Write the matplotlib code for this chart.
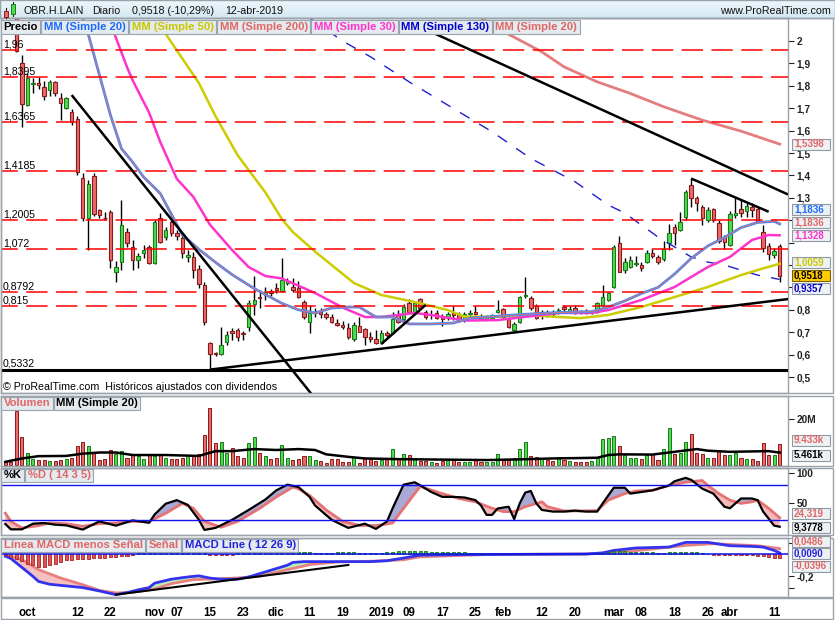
import numpy as np
import pandas as pd
import matplotlib
matplotlib.use("Agg")
import matplotlib.pyplot as plt
from matplotlib.patches import Rectangle
from matplotlib.colors import LinearSegmentedColormap

plt.rcParams['font.family'] = ['Liberation Sans', 'DejaVu Sans']

# ---------------- data ----------------
# trading days, BME holidays removed
holidays = pd.to_datetime(['2018-12-25', '2018-12-26', '2019-01-01'])
dates = pd.bdate_range('2018-09-25', '2019-04-12')
dates = dates[~dates.isin(holidays)]

opens = [2.30, 2.25, 2.15, 1.90, 1.714, 1.81, 1.815, 1.793, 1.781, 1.818,
         1.748, 1.70, 1.684, 1.65, 1.387, 1.208, 1.399, 1.245, 1.212, 1.238,
         0.969, 1.013, 1.147, 1.08, 1.022, 1.054, 1.08, 1.009, 1.21, 1.125,
         1.192, 1.143, 1.121, 1.036, 1.036, 0.982, 0.911, 0.652, 0.605, 0.603,
         0.656, 0.705, 0.71, 0.698, 0.723, 0.826, 0.857, 0.866, 0.882, 0.897,
         0.885, 0.918, 0.90, 0.896, 0.836, 0.747, 0.784, 0.791, 0.781, 0.766,
         0.74, 0.732, 0.717, 0.668, 0.728, 0.713, 0.68, 0.668, 0.65, 0.698,
         0.695, 0.777, 0.757, 0.832, 0.784, 0.847, 0.791, 0.775, 0.784, 0.766,
         0.766, 0.784, 0.777, 0.754, 0.782, 0.79, 0.769, 0.761, 0.762, 0.791,
         0.802, 0.762, 0.71, 0.747, 0.862, 0.851, 0.817, 0.781, 0.791, 0.79,
         0.79, 0.814, 0.792, 0.807, 0.795, 0.796, 0.785, 0.791, 0.821, 0.844,
         0.903, 1.097, 0.98, 0.99, 1.006, 1.0, 1.015, 1.055, 1.037, 1.025,
         1.097, 1.168, 1.156, 1.216, 1.357, 1.298, 1.257, 1.2, 1.248, 1.189,
         1.123, 1.089, 1.223, 1.248, 1.242, 1.26, 1.248, 1.149, 1.085, 1.045,
         1.083]
highs = [2.35, 2.28, 2.18, 1.94, 1.856, 1.835, 1.84, 1.823, 1.826, 1.82,
         1.77, 1.75, 1.696, 1.665, 1.41, 1.379, 1.413, 1.25, 1.238, 1.245,
         1.02, 1.29, 1.165, 1.112, 1.054, 1.09, 1.09, 1.20, 1.232, 1.17,
         1.20, 1.156, 1.13, 1.067, 1.058, 1.0, 0.924, 0.655, 0.61, 0.723,
         0.705, 0.72, 0.72, 0.705, 0.844, 0.951, 0.888, 0.90, 0.892, 0.92,
         1.031, 0.94, 0.94, 0.93, 0.845, 0.821, 0.81, 0.81, 0.79, 0.78,
         0.76, 0.75, 0.74, 0.745, 0.77, 0.72, 0.70, 0.71, 0.71, 0.705,
         0.79, 0.80, 0.825, 0.85, 0.84, 0.855, 0.80, 0.80, 0.80, 0.78,
         0.79, 0.817, 0.79, 0.79, 0.80, 0.817, 0.78, 0.775, 0.78, 0.844,
         0.81, 0.77, 0.745, 0.86, 0.945, 0.86, 0.825, 0.80, 0.80, 0.80,
         0.81, 0.82, 0.815, 0.82, 0.80, 0.805, 0.80, 0.835, 0.911, 0.88,
         1.089, 1.129, 1.03, 1.04, 1.04, 1.015, 1.067, 1.07, 1.045, 1.108,
         1.183, 1.185, 1.238, 1.335, 1.387, 1.31, 1.27, 1.26, 1.255, 1.20,
         1.135, 1.24, 1.302, 1.29, 1.28, 1.275, 1.26, 1.18, 1.10, 1.075,
         1.094]
lows = [2.22, 2.12, 1.95, 1.615, 1.71, 1.77, 1.785, 1.737, 1.754, 1.754,
        1.647, 1.697, 1.625, 1.40, 1.195, 1.067, 1.22, 1.21, 1.20, 0.987,
        0.925, 0.98, 1.08, 0.978, 0.987, 1.031, 1.005, 1.005, 1.10, 1.11,
        1.13, 1.11, 1.03, 1.013, 0.942, 0.897, 0.732, 0.533, 0.595, 0.60,
        0.643, 0.665, 0.66, 0.665, 0.705, 0.777, 0.81, 0.845, 0.86, 0.875,
        0.88, 0.91, 0.88, 0.855, 0.76, 0.698, 0.77, 0.765, 0.76, 0.74,
        0.728, 0.715, 0.67, 0.66, 0.70, 0.645, 0.655, 0.648, 0.648, 0.68,
        0.69, 0.74, 0.75, 0.785, 0.78, 0.80, 0.76, 0.76, 0.76, 0.728,
        0.755, 0.755, 0.745, 0.745, 0.77, 0.775, 0.755, 0.755, 0.755, 0.785,
        0.76, 0.72, 0.698, 0.74, 0.855, 0.80, 0.76, 0.76, 0.77, 0.77,
        0.78, 0.79, 0.785, 0.782, 0.78, 0.78, 0.78, 0.785, 0.815, 0.84,
        0.896, 0.97, 0.965, 0.985, 0.995, 0.972, 1.01, 1.03, 1.005, 1.02,
        1.067, 1.09, 1.15, 1.2, 1.26, 1.24, 1.18, 1.19, 1.19, 1.10,
        1.07, 1.085, 1.21, 1.215, 1.215, 1.215, 1.19, 1.06, 1.022, 1.03,
        0.925]
closes = [2.25, 2.15, 1.955, 1.72, 1.833, 1.815, 1.803, 1.756, 1.818, 1.769,
          1.722, 1.744, 1.640, 1.416, 1.21, 1.362, 1.226, 1.223, 1.21, 1.022,
          0.99, 1.179, 1.098, 1.022, 1.04, 1.067, 1.009, 1.192, 1.103, 1.156,
          1.143, 1.13, 1.054, 1.045, 0.978, 0.915, 0.746, 0.603, 0.603, 0.643,
          0.688, 0.696, 0.679, 0.692, 0.83, 0.844, 0.853, 0.88, 0.875, 0.888,
          0.933, 0.929, 0.888, 0.858, 0.766, 0.784, 0.791, 0.781, 0.766, 0.747,
          0.732, 0.722, 0.677, 0.732, 0.702, 0.677, 0.668, 0.65, 0.695, 0.688,
          0.761, 0.747, 0.814, 0.791, 0.832, 0.807, 0.766, 0.779, 0.762, 0.757,
          0.78, 0.775, 0.754, 0.78, 0.786, 0.781, 0.76, 0.768, 0.777, 0.799,
          0.766, 0.725, 0.737, 0.858, 0.866, 0.807, 0.762, 0.791, 0.777, 0.78,
          0.80, 0.803, 0.805, 0.787, 0.79, 0.785, 0.792, 0.829, 0.858, 0.876,
          1.079, 0.97, 1.015, 1.022, 1.008, 0.985, 1.052, 1.04, 1.015, 1.07,
          1.141, 1.144, 1.193, 1.327, 1.298, 1.278, 1.208, 1.245, 1.203, 1.108,
          1.104, 1.23, 1.233, 1.233, 1.263, 1.245, 1.193, 1.074, 1.049, 1.061,
          0.9518]
# volume in millions
volume = [1.9, 1.5, 23.8, 12.1, 5.5, 2.6, 2.2, 2.2, 1.7, 1.7,
          2.2, 2.6, 2.9, 8.3, 9.9, 8.3, 5.5, 2.2, 2.6, 6.6,
          5.0, 6.3, 3.3, 5.0, 4.0, 2.6, 5.0, 4.0, 4.4, 2.9,
          2.6, 2.6, 2.9, 4.0, 4.0, 4.7, 13.1, 24.8, 9.5, 10.2,
          5.5, 7.3, 3.8, 2.9, 9.5, 12.1, 5.5, 3.8, 2.6, 3.3,
          8.7, 3.3, 2.2, 2.6, 3.8, 3.8, 2.2, 1.7, 1.0, 2.6,
          2.6, 1.5, 1.5, 3.6, 1.0, 2.9, 2.6, 1.9, 2.2, 2.6,
          6.9, 2.6, 4.7, 4.4, 3.3, 1.9, 1.9, 1.2, 0.7, 1.7,
          2.2, 2.2, 1.2, 1.2, 1.2, 2.2, 1.2, 1.2, 1.2, 5.0,
          2.2, 2.2, 3.3, 6.9, 10.2, 4.0, 3.6, 3.2, 2.2, 1.7,
          3.6, 2.2, 1.7, 1.2, 1.2, 1.2, 1.7, 2.9, 11.2, 11.9,
          12.7, 8.5, 4.4, 2.9, 3.3, 2.6, 4.6, 5.0, 2.2, 6.9,
          16.1, 5.0, 5.3, 9.9, 13.5, 5.5, 4.7, 3.3, 2.9, 6.3,
          4.4, 4.4, 5.3, 2.9, 2.5, 2.5, 1.7, 9.6, 4.6, 4.4,
          9.433]
volma_idx = [0, 3, 6, 11, 14, 17, 20, 23, 29, 35, 38, 41, 45, 49, 53, 56, 58,
             62, 65, 71, 75, 87, 93, 99, 107, 109, 111, 117, 121, 125, 127, 131, 138, 140]
volma = [1.4, 2.9, 3.9, 4.0, 5.0, 5.5, 5.5, 4.4, 4.4, 4.0, 6.1, 6.1, 7.0, 6.6, 7.0, 6.6, 4.7,
         3.6, 2.9, 2.6, 2.5, 2.2, 2.5, 2.9, 3.2, 4.4, 4.7, 4.6, 5.8, 7.0, 6.3, 5.8, 6.1, 5.461]

# moving averages (day index, value)
sma20_idx = [14, 15, 17, 19, 21, 23, 25, 28, 32, 35, 38, 41, 45, 50, 53, 56, 59, 62, 64, 67,
             70, 73, 77, 81, 84, 87, 92, 98, 106, 109, 112, 115, 118, 121, 124, 127, 130,
             133, 136, 139, 140]
sma20 = [2.10, 2.03, 1.85, 1.67, 1.52, 1.46, 1.393, 1.32, 1.135, 1.07, 1.012, 0.957, 0.895,
         0.829, 0.80, 0.786, 0.808, 0.8125, 0.812, 0.768, 0.768, 0.737, 0.737, 0.741, 0.763,
         0.768, 0.777, 0.786, 0.792, 0.812, 0.84, 0.873, 0.90, 0.96, 1.03, 1.085, 1.123,
         1.167, 1.19, 1.195, 1.1836]
sma30_idx = [19, 22, 23, 26, 28, 31, 34, 37, 41, 44, 47, 50, 56, 61, 65, 68, 74, 77, 83, 89,
             100, 106, 109, 115, 121, 127, 131, 135, 138, 140]
sma30 = [2.08, 1.884, 1.826, 1.68, 1.55, 1.385, 1.304, 1.18, 1.067, 0.991, 0.951, 0.94, 0.875,
         0.81, 0.768, 0.768, 0.786, 0.777, 0.752, 0.754, 0.786, 0.786, 0.799, 0.844, 0.902,
         0.991, 1.036, 1.112, 1.134, 1.1328]
sma50_idx = [28, 30, 35, 38, 42, 47, 50, 52, 56, 63, 68, 74, 80, 83, 88, 94, 100, 104, 109,
             115, 121, 127, 133, 137, 140]
sma50 = [2.07, 1.995, 1.8125, 1.665, 1.49, 1.325, 1.205, 1.147, 1.06, 0.92, 0.866, 0.835,
         0.799, 0.77, 0.768, 0.777, 0.768, 0.763, 0.777, 0.8125, 0.857, 0.902, 0.955, 0.985,
         1.0059]
sma130_idx = [55, 61, 66, 73, 80, 88, 95, 103, 109, 112, 118, 124, 127, 130, 136, 140]
sma130 = [2.103, 2.0, 1.93, 1.818, 1.714, 1.595, 1.476, 1.372, 1.268, 1.232, 1.125, 1.036,
          1.013, 1.0, 0.955, 0.9357]
sma200_idx = [86, 91, 97, 101, 107, 113, 119, 126, 133, 140]
sma200 = [2.103, 2.03, 1.952, 1.885, 1.818, 1.766, 1.707, 1.647, 1.598, 1.5398]

# drawn levels and trend lines
levels = [1.96, 1.8395, 1.6365, 1.4185, 1.2005, 1.072, 0.8792, 0.815]
support_level = 0.5332
trend_lines = [([12, 56], [1.759, 0.404]),
               ([37, 141.5], [0.533, 0.848]),
               ([68, 76], [0.648, 0.822]),
               ([75, 141.5], [2.063, 1.315]),
               ([124, 138], [1.386, 1.238])]

# stochastic %K / %D
k_idx = [0, 1, 3, 5, 7, 9, 11, 14, 17, 20, 23, 26, 27, 29, 31, 33, 35, 36, 38, 41,
         44, 47, 49, 51, 53, 55, 56, 59, 62, 65, 67, 69, 70, 71, 72, 74, 75, 77, 79, 81,
         83, 85, 86, 87, 88, 89, 91, 92, 93, 94, 95, 96, 97, 99, 101, 103, 105, 107, 108, 110,
         112, 113, 115, 117, 120, 121, 123, 124, 126, 128, 130, 131, 133, 135, 136, 137, 139, 140]
k_val = [14, 5, 5, 14.5, 15.6, 12.8, 11.7, 4.6, 18.3, 11.2, 20, 16, 30, 48, 54, 46, 21, 4, 7.4, 21,
         37.6, 55, 70.5, 80, 76, 59.5, 45, 21, 7.4, 14.5, 5.7, 18.3, 40, 60, 80, 84, 79, 67.7, 59.5, 59.5,
         58.5, 54, 45, 29.3, 29.3, 40, 43, 22.2, 48.6, 66.7, 69.4, 48.6, 37.6, 34.8, 34.8, 36.4, 34.8, 34.8, 48.6, 74.9,
         74.9, 65, 67.7, 70.5, 78.7, 85.8, 91.4, 88.1, 73.3, 65, 43, 40.4, 56.8, 56.8, 54, 34.8, 11.2, 9.3778]
d_idx = [0, 1, 3, 6, 8, 11, 14, 17, 20, 23, 26, 29, 32, 34, 36, 39, 42, 46, 49, 52,
         53, 55, 58, 61, 64, 67, 70, 72, 74, 75, 79, 82, 85, 88, 90, 92, 94, 97, 98, 101,
         104, 107, 109, 112, 114, 117, 120, 123, 126, 127, 129, 131, 133, 135, 136, 138, 140]
d_val = [32, 18.3, 7.4, 11.2, 15.6, 14.5, 10.1, 14.5, 15.6, 18.3, 18.3, 32, 48.6, 40.3, 18.3, 8.5, 18.3, 40.3, 59.5, 76,
         73, 62, 37.6, 18.3, 11.7, 11.2, 15.6, 40.3, 65, 77, 65, 56.8, 51.2, 40.4, 34.8, 34.8, 43, 51.2, 43, 35.9,
         35.9, 36.4, 54, 65, 69.4, 70.5, 78.7, 84.2, 87, 78.7, 65, 54, 48.6, 51.2, 54, 40.4, 24.319]

# MACD
macd_idx = [0, 1, 3, 5, 6, 8, 11, 14, 17, 20, 22, 24, 26, 27, 30, 33, 35, 37, 39, 42,
            44, 47, 49, 51, 52, 54, 60, 66, 69, 72, 75, 81, 105, 108, 110, 114, 120, 123, 127, 131,
            135, 137, 139, 140]
macd_val = [-0.02, -0.04, -0.12, -0.2, -0.245, -0.27, -0.285, -0.30, -0.33, -0.363, -0.345, -0.32,
            -0.30, -0.26, -0.225, -0.205, -0.195, -0.215, -0.225, -0.225, -0.205, -0.16, -0.13, -0.10,
            -0.075, -0.068, -0.068, -0.068, -0.06, -0.036, -0.01, -0.006, 0.0, 0.01, 0.032, 0.054,
            0.062, 0.104, 0.104, 0.074, 0.068, 0.062, 0.032, 0.009]
sig_idx = [0, 3, 6, 10, 14, 17, 20, 23, 27, 30, 34, 38, 42, 46, 51, 55, 60, 66, 72, 75,
           81, 87, 105, 111, 117, 123, 128, 132, 136, 140]
sig_val = [-0.006, -0.05, -0.14, -0.214, -0.274, -0.325, -0.348, -0.342, -0.313, -0.265,
           -0.229, -0.223, -0.214, -0.199, -0.14, -0.095, -0.071, -0.065, -0.051, -0.025,
           -0.015, -0.005, 0.0, 0.015, 0.045, 0.077, 0.092, 0.083, 0.074, 0.0486]
macd_hist = [-0.01, -0.025, -0.045, -0.065, -0.085, -0.10, -0.115, -0.115, -0.10, -0.085,
             -0.07, -0.055, -0.05, -0.048, -0.045, -0.042, -0.04, -0.036, -0.033, -0.03,
             -0.027, -0.022, -0.018, -0.01,
             0.005, 0.01, 0.015, 0.02, 0.025, 0.03, 0.03, 0.028, 0.025, 0.022, 0.018, 0.012, 0.005, -0.005,
             -0.01, -0.012, -0.01, -0.005,
             0.005, 0.01, 0.02, 0.03, 0.04, 0.045, 0.045, 0.04, 0.035, 0.03, 0.025, 0.02, 0.018, 0.015,
             0.012, 0.01, 0.01, 0.012, 0.014, 0.015, 0.015, 0.014, 0.013, 0.012, 0.012, 0.012, 0.013,
             0.015, 0.02, 0.025, 0.03, 0.03, 0.03, 0.028,
             0.025, 0.022, 0.02, 0.02, 0.018, 0.018, 0.016, 0.014, 0.012, 0.01,
             0.006, 0.004, 0.003, 0.002, 0.002, 0.001, 0.001, 0.002, 0.003, 0.003, 0.002, 0.001,
             0.001, 0.001, 0.002, 0.002, 0.002, 0.001, 0.001, 0.002, 0.003, 0.005,
             0.01, 0.02, 0.03, 0.028, 0.025, 0.022, 0.02, 0.018, 0.016, 0.015, 0.012, 0.012, 0.018,
             0.02, 0.02, 0.022, 0.02, 0.015, 0.008,
             -0.003, -0.005, -0.008, -0.008, -0.006, -0.006, -0.008, -0.01, -0.012, -0.014, -0.02,
             -0.03, -0.035, -0.0396]

tick_dates = ['2018-10-01', '2018-10-12', '2018-10-22', '2018-11-01', '2018-11-07', '2018-11-15',
              '2018-11-23', '2018-12-03', '2018-12-11', '2018-12-19', '2019-01-02', '2019-01-09',
              '2019-01-17', '2019-01-25', '2019-02-01', '2019-02-12', '2019-02-20', '2019-03-01',
              '2019-03-08', '2019-03-18', '2019-03-26', '2019-04-01', '2019-04-11']
tick_labels = ['oct', '12', '22', 'nov', '07', '15', '23', 'dic', '11', '19', '2019', '09',
               '17', '25', 'feb', '12', '20', 'mar', '08', '18', '26', 'abr', '11']

# ---------------- figure ----------------
W, H = 835, 620
fig = plt.figure(figsize=(W / 100, H / 100), dpi=100)
fig.patch.set_facecolor('white')
FRAME = '#9aa3ab'
RED, RED_E = '#e86a6a', '#8b1a1a'
GRN, GRN_E = '#4ddc4d', '#1a7a1a'
SALMON = '#e06666'


def fx(px):
    return px / W


def fy(px):
    return 1 - px / H


def es(v):
    return f"{v:g}".replace('.', ',')


def make_panel(top, bottom):
    ax = fig.add_axes([fx(1), fy(bottom), fx(787), (bottom - top) / H])
    for s in ax.spines.values():
        s.set_color(FRAME)
        s.set_linewidth(1)
    ax.set_xlim(-0.78, 141.5)
    ax.set_xticks([])
    ax.yaxis.tick_right()
    ax.tick_params(axis='y', direction='out', length=4, width=0.8, colors='#222',
                   labelsize=7.3, pad=2)
    fig.patches.append(Rectangle((fx(1), fy(bottom)), fx(832), (bottom - top) / H,
                                 transform=fig.transFigure, fill=False, ec=FRAME, lw=1, zorder=1))
    return ax


x = np.arange(len(dates))
o, h, l, c = map(np.array, (opens, highs, lows, closes))
up = c >= o

# header band
hax = fig.add_axes([0, fy(18), 1, 18 / H])
hax.imshow(np.linspace(0, 1, 18)[:, None], aspect='auto',
           cmap=LinearSegmentedColormap.from_list('hdr', ['#eef7fb', '#d4e8f2']), extent=[0, 1, 0, 1])
hax.axis('off')
fig.patches.append(Rectangle((0, fy(18)), 1, 18 / H, transform=fig.transFigure, fill=False,
                             ec=FRAME, lw=1, zorder=2))
# small candle icon
fig.lines.append(plt.Line2D([fx(5.5), fx(5.5)], [fy(8), fy(18)], transform=fig.transFigure, color='#222', lw=0.8, zorder=3))
fig.patches.append(Rectangle((fx(3.5), fy(16.5)), 4 / W, 6 / H, transform=fig.transFigure, fc=RED, ec=RED_E, lw=0.7, zorder=4))
fig.lines.append(plt.Line2D([fx(13), fx(13)], [fy(1.5), fy(15.5)], transform=fig.transFigure, color='#222', lw=0.8, zorder=3))
fig.patches.append(Rectangle((fx(11), fy(14)), 4 / W, 10 / H, transform=fig.transFigure, fc=GRN, ec=GRN_E, lw=0.7, zorder=4))
for px, s in [(23, 'OBR.H.LAIN'), (92, 'Diario'), (132, '0,9518 (-10,29%)'), (225, '12-abr-2019')]:
    fig.text(fx(px), fy(11), s, fontsize=7.7, color='#111', va='center', ha='left')
fig.text(fx(831), fy(11.5), 'www.ProRealTime.com', fontsize=7.7, color='#111', va='center', ha='right')

# ---- price panel ----
ax = make_panel(18, 393)
ax.set_ylim(0.4286, 2.103)
ax.vlines(x, l, h, color='black', lw=1, zorder=2)
ax.bar(x, np.maximum(np.abs(c - o), 0.002), bottom=np.minimum(o, c), width=0.62,
       color=np.where(up, GRN, RED), edgecolor=np.where(up, GRN_E, RED_E), lw=0.8, zorder=3)
ax.plot(sma200_idx, sma200, color=SALMON, lw=2, alpha=0.85, zorder=3.5)
ax.plot(sma130_idx, sma130, color='#1f1fd0', lw=1, ls=(0, (8, 8)), zorder=3.5)
ax.plot(sma50_idx, sma50, color='#cccc00', lw=1.8, zorder=3.6)
ax.plot(sma30_idx, sma30, color='#ff33cc', lw=1.8, zorder=3.6)
ax.plot(sma20_idx, sma20, color='#3d8bff', lw=2.0, zorder=3.7)
ax.plot(sma20_idx, sma20, color='#e07070', lw=0.7, zorder=3.8)
for lv in levels:
    ax.axhline(lv, color='#ff0000', lw=1.1, ls=(3, (14, 5.5)), zorder=4)
    ax.annotate(es(lv), xy=(0, lv), xycoords=('axes fraction', 'data'), xytext=(1.5, 1.8),
                textcoords='offset points', fontsize=7.6, va='baseline', ha='left', zorder=5)
ax.axhline(support_level, color='black', lw=2.2, zorder=4)
ax.annotate(es(support_level), xy=(0, support_level), xycoords=('axes fraction', 'data'),
            xytext=(1.5, 2.2), textcoords='offset points', fontsize=7.6, va='baseline', ha='left')
for tx, ty in trend_lines:
    ax.plot(tx, ty, color='black', lw=1.8, zorder=4.5, solid_capstyle='butt')
pt = np.round(np.arange(0.5, 2.01, 0.1), 1)
# labels 1,2 / 1,1 / 1 / 0,9 sit under the value tags in the original
hidden = {1.2, 1.1, 1.0, 0.9}
ax.set_yticks(pt, ['' if v in hidden else es(v) for v in pt], fontweight='bold')
fig.text(fx(3), fy(386.5), '© ProRealTime.com  Históricos ajustados con dividendos',
         fontsize=7.7, va='center', ha='left', zorder=6)

# ---- volume panel ----
av = make_panel(396, 466)
av.set_ylim(-0.4, 30.2)
av.bar(x, volume, width=0.55, color=np.where(up, GRN, RED),
       edgecolor=np.where(up, GRN_E, RED_E), lw=0.7, zorder=2)
av.plot(volma_idx, volma, color='black', lw=1.8, zorder=3)
av.set_yticks([20], ['20M'], fontweight='bold')

# ---- stochastic panel ----
ak = make_panel(468, 535)
ak.set_ylim(-4.5, 108)
xs = np.linspace(0, 140, 1401)
kk = np.interp(xs, k_idx, k_val)
dd = np.interp(xs, d_idx, d_val)
ak.fill_between(xs, kk, dd, where=kk >= dd, interpolate=True, color='#a9a9d6', lw=0)
ak.fill_between(xs, kk, dd, where=kk < dd, interpolate=True, color='#f5b9b9', lw=0)
ak.plot(d_idx, d_val, color='#e57373', lw=2)
ak.plot(k_idx, k_val, color='black', lw=1.6)
ak.axhline(80, color='#1010ee', lw=1)
ak.axhline(20, color='#1010ee', lw=1)
ak.set_yticks([100, 50], ['100', '50'], fontweight='bold')

# ---- MACD panel ----
am = make_panel(538, 597)
am.set_ylim(-0.384, 0.143)
mm = np.interp(xs, macd_idx, macd_val)
ss = np.interp(xs, sig_idx, sig_val)
am.fill_between(xs, mm, ss, where=mm >= ss, interpolate=True, color='#b9f0b9', lw=0)
am.fill_between(xs, mm, ss, where=mm < ss, interpolate=True, color='#f5c0c0', lw=0)
am.plot(sig_idx, sig_val, color='#e88080', lw=2)
am.plot(macd_idx, macd_val, color='#3333ee', lw=2)
hist = np.array(macd_hist)
am.bar(x, hist, width=0.55, color=np.where(hist >= 0, '#33bb33', '#dd5555'),
       edgecolor=np.where(hist >= 0, '#117711', '#aa2222'), lw=0.6, zorder=3)
am.axhline(0, color='#1010ee', lw=1.1, zorder=3.5)
am.plot([20, 62], [-0.363, -0.098], color='black', lw=1.5, zorder=4)
am.set_yticks([0.1, -0.2, -0.3], ['', '-0,2', ''], fontweight='bold')
tick_pos = [dates.get_loc(pd.Timestamp(d)) for d in tick_dates]
am.set_xticks(tick_pos, tick_labels, fontsize=8.3, fontweight='bold')
am.tick_params(axis='x', length=0, pad=7)
fig.patches.append(Rectangle((fx(1), fy(619)), fx(832), 21 / H, transform=fig.transFigure,
                             fill=False, ec=FRAME, lw=1, zorder=1))

# ---- legend boxes ----
renderer = fig.canvas.get_renderer()
zc = [10]


def legend_row(items, yc):
    xp = 1
    for label, color in items:
        zc[0] += 2
        t = fig.text(fx(xp + 2.5), fy(yc), label, color=color, fontsize=8.1, fontweight='bold',
                     va='center', ha='left', zorder=zc[0] + 1)
        w = t.get_window_extent(renderer).width
        fig.patches.append(Rectangle((fx(xp), fy(yc + 6.5)), (w + 5) / W, 13 / H,
                                     transform=fig.transFigure, fc='#e4eaee', ec='#98a4ae',
                                     lw=0.8, zorder=zc[0]))
        xp += w + 6


legend_row([('Precio', 'black'), ('MM (Simple 20)', '#1a6aff'), ('MM (Simple 50)', '#c8c800'),
            ('MM (Simple 200)', SALMON), ('MM (Simple 30)', '#ff33cc'),
            ('MM (Simple 130)', '#0000cc'), ('MM (Simple 20)', SALMON)], 27)
legend_row([('Volumen', SALMON), ('MM (Simple 20)', 'black')], 403)
legend_row([('%K', 'black'), ('%D ( 14 3 5)', SALMON)], 475.5)
legend_row([('Línea MACD menos Señal', SALMON), ('Señal', SALMON),
            ('MACD Line ( 12 26 9)', '#2222dd')], 545.5)


# ---- value tags on the right ----
def tag(yc, text, color, fc='#eef1f4', ec='#8e99a4'):
    zc[0] += 2
    fig.patches.append(Rectangle((fx(792), fy(yc + 5.5)), 38 / W, 11 / H, transform=fig.transFigure,
                                 fc=fc, ec=ec, lw=0.8, zorder=zc[0]))
    fig.text(fx(794), fy(yc), text, color=color, fontsize=7.0, fontweight='bold',
             va='center', ha='left', zorder=zc[0] + 1)


tag(144, '1,5398', SALMON)
tag(209.5, '1,1836', '#1a6aff')
tag(222.5, '1,1836', SALMON)
tag(235.5, '1,1328', '#ff33cc')
tag(262.5, '1,0059', '#c8c800')
tag(288.5, '0,9357', '#0000cc')
tag(275.5, '0,9518', 'black', fc='#ffcc00', ec='#7a6000')
tag(440, '9.433k', SALMON)
tag(455, '5.461k', 'black')
tag(513.5, '24,319', SALMON)
tag(527, '9,3778', 'black')
tag(541, '0,0486', SALMON)
tag(553.5, '0,0090', '#2222dd')
tag(566, '-0,0396', SALMON)

fig.savefig('out.png', dpi=100)
